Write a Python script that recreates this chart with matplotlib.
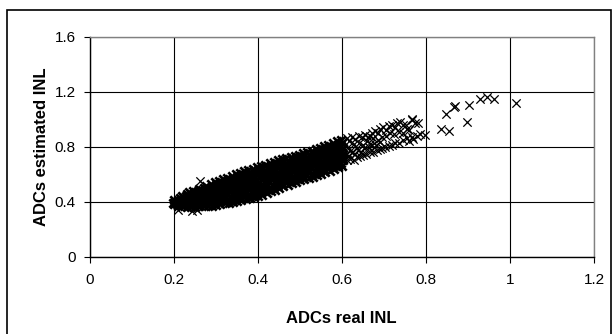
import matplotlib.pyplot as plt
from matplotlib.patches import Rectangle

plt.rcParams["font.family"] = ["Liberation Sans", "DejaVu Sans"]

# dense part of the cloud (read column by column, x = 0.20 .. 0.60)
dense_x = [
    0.201, 0.199, 0.203, 0.200,
    0.211, 0.208, 0.213, 0.210, 0.214,
    0.221, 0.218, 0.223, 0.220, 0.224, 0.219,
    0.231, 0.228, 0.233, 0.230, 0.234, 0.229, 0.232,
    0.241, 0.238, 0.243, 0.240, 0.244, 0.239, 0.242, 0.237,
    0.251, 0.248, 0.253, 0.250, 0.254, 0.249, 0.252, 0.247,
    0.261, 0.258, 0.263, 0.260, 0.264, 0.259, 0.262, 0.257, 0.261,
    0.271, 0.268, 0.273, 0.270, 0.274, 0.269, 0.272, 0.267, 0.271,
    0.281, 0.278, 0.283, 0.280, 0.284, 0.279, 0.282, 0.277, 0.281, 0.278,
    0.291, 0.288, 0.293, 0.290, 0.294, 0.289, 0.292, 0.287, 0.291, 0.288,
    0.301, 0.298, 0.303, 0.300, 0.304, 0.299, 0.302, 0.297, 0.301, 0.298,
    0.311, 0.308, 0.313, 0.310, 0.314, 0.309, 0.312, 0.307, 0.311, 0.308,
    0.321, 0.318, 0.323, 0.320, 0.324, 0.319, 0.322, 0.317, 0.321, 0.318,
    0.331, 0.328, 0.333, 0.330, 0.334, 0.329, 0.332, 0.327, 0.331, 0.328,
    0.341, 0.338, 0.343, 0.340, 0.344, 0.339, 0.342, 0.337, 0.341, 0.338,
    0.351, 0.348, 0.353, 0.350, 0.354, 0.349, 0.352, 0.347, 0.351, 0.348,
    0.361, 0.358, 0.363, 0.360, 0.364, 0.359, 0.362, 0.357, 0.361, 0.358,
    0.371, 0.368, 0.373, 0.370, 0.374, 0.369, 0.372, 0.367, 0.371, 0.368,
    0.381, 0.378, 0.383, 0.380, 0.384, 0.379, 0.382, 0.377, 0.381, 0.378,
    0.391, 0.388, 0.393, 0.390, 0.394, 0.389, 0.392, 0.387, 0.391, 0.388,
    0.401, 0.398, 0.403, 0.400, 0.404, 0.399, 0.402, 0.397, 0.401, 0.398,
    0.411, 0.408, 0.413, 0.410, 0.414, 0.409, 0.412, 0.407, 0.411, 0.408,
    0.421, 0.418, 0.423, 0.420, 0.424, 0.419, 0.422, 0.417, 0.421, 0.418,
    0.431, 0.428, 0.433, 0.430, 0.434, 0.429, 0.432, 0.427, 0.431, 0.428,
    0.441, 0.438, 0.443, 0.440, 0.444, 0.439, 0.442, 0.437, 0.441, 0.438,
    0.451, 0.448, 0.453, 0.450, 0.454, 0.449, 0.452, 0.447, 0.451, 0.448,
    0.461, 0.458, 0.463, 0.460, 0.464, 0.459, 0.462, 0.457, 0.461, 0.458,
    0.471, 0.468, 0.473, 0.470, 0.474, 0.469, 0.472, 0.467, 0.471, 0.468,
    0.481, 0.478, 0.483, 0.480, 0.484, 0.479, 0.482, 0.477, 0.481, 0.478,
    0.491, 0.488, 0.493, 0.490, 0.494, 0.489, 0.492, 0.487, 0.491, 0.488,
    0.501, 0.498, 0.503, 0.500, 0.504, 0.499, 0.502, 0.497, 0.501, 0.498,
    0.511, 0.508, 0.513, 0.510, 0.514, 0.509, 0.512, 0.507, 0.511, 0.508,
    0.521, 0.518, 0.523, 0.520, 0.524, 0.519, 0.522, 0.517, 0.521, 0.518,
    0.531, 0.528, 0.533, 0.530, 0.534, 0.529, 0.532, 0.527, 0.531, 0.528,
    0.541, 0.538, 0.543, 0.540, 0.544, 0.539, 0.542, 0.537, 0.541, 0.538,
    0.551, 0.548, 0.553, 0.550, 0.554, 0.549, 0.552, 0.547, 0.551, 0.548,
    0.561, 0.558, 0.563, 0.560, 0.564, 0.559, 0.562, 0.557, 0.561, 0.558,
    0.571, 0.568, 0.573, 0.570, 0.574, 0.569, 0.572, 0.567, 0.571, 0.568,
    0.581, 0.578, 0.583, 0.580, 0.584, 0.579, 0.582, 0.577, 0.581, 0.578,
    0.591, 0.588, 0.593, 0.590, 0.594, 0.589, 0.592, 0.587, 0.591, 0.588,
    0.601, 0.598, 0.603, 0.600, 0.604, 0.599, 0.602, 0.597, 0.601, 0.598,
]
dense_y = [
    0.382, 0.393, 0.401, 0.410,
    0.371, 0.385, 0.397, 0.414, 0.428,
    0.368, 0.384, 0.397, 0.413, 0.426, 0.442,
    0.362, 0.378, 0.392, 0.409, 0.423, 0.441, 0.455,
    0.363, 0.376, 0.393, 0.406, 0.423, 0.437, 0.454, 0.468,
    0.365, 0.380, 0.397, 0.411, 0.429, 0.444, 0.462, 0.478,
    0.366, 0.382, 0.396, 0.413, 0.427, 0.445, 0.458, 0.476, 0.490,
    0.368, 0.386, 0.401, 0.420, 0.435, 0.453, 0.468, 0.487, 0.503,
    0.370, 0.385, 0.403, 0.417, 0.435, 0.450, 0.468, 0.482, 0.500, 0.515,
    0.372, 0.390, 0.406, 0.425, 0.440, 0.460, 0.475, 0.494, 0.510, 0.528,
    0.376, 0.392, 0.413, 0.429, 0.449, 0.466, 0.486, 0.502, 0.523, 0.540,
    0.381, 0.398, 0.419, 0.436, 0.457, 0.475, 0.496, 0.513, 0.534, 0.552,
    0.388, 0.409, 0.426, 0.448, 0.465, 0.487, 0.504, 0.526, 0.543, 0.564,
    0.394, 0.413, 0.435, 0.454, 0.476, 0.494, 0.516, 0.535, 0.557, 0.576,
    0.401, 0.420, 0.443, 0.462, 0.485, 0.503, 0.526, 0.545, 0.568, 0.588,
    0.408, 0.430, 0.450, 0.473, 0.492, 0.516, 0.535, 0.558, 0.578, 0.600,
    0.414, 0.437, 0.457, 0.480, 0.500, 0.524, 0.544, 0.568, 0.587, 0.610,
    0.421, 0.441, 0.465, 0.486, 0.510, 0.530, 0.554, 0.575, 0.599, 0.620,
    0.428, 0.451, 0.472, 0.496, 0.517, 0.541, 0.562, 0.586, 0.607, 0.630,
    0.434, 0.458, 0.479, 0.504, 0.525, 0.549, 0.570, 0.595, 0.616, 0.640,
    0.441, 0.462, 0.488, 0.509, 0.534, 0.556, 0.581, 0.602, 0.628, 0.650,
    0.450, 0.474, 0.496, 0.521, 0.542, 0.568, 0.589, 0.614, 0.636, 0.660,
    0.464, 0.486, 0.511, 0.532, 0.557, 0.577, 0.602, 0.623, 0.648, 0.670,
    0.476, 0.500, 0.520, 0.545, 0.566, 0.590, 0.611, 0.636, 0.656, 0.680,
    0.488, 0.509, 0.534, 0.554, 0.579, 0.599, 0.624, 0.644, 0.669, 0.690,
    0.500, 0.523, 0.543, 0.568, 0.588, 0.612, 0.632, 0.657, 0.677, 0.700,
    0.511, 0.531, 0.555, 0.576, 0.600, 0.620, 0.644, 0.665, 0.689, 0.710,
    0.522, 0.545, 0.565, 0.589, 0.609, 0.633, 0.653, 0.677, 0.697, 0.720,
    0.535, 0.555, 0.578, 0.598, 0.621, 0.641, 0.664, 0.684, 0.707, 0.728,
    0.545, 0.567, 0.586, 0.609, 0.628, 0.652, 0.671, 0.694, 0.713, 0.735,
    0.556, 0.575, 0.598, 0.616, 0.639, 0.658, 0.681, 0.699, 0.722, 0.742,
    0.565, 0.587, 0.606, 0.628, 0.647, 0.670, 0.689, 0.711, 0.730, 0.752,
    0.575, 0.594, 0.617, 0.636, 0.659, 0.677, 0.700, 0.719, 0.742, 0.762,
    0.582, 0.604, 0.623, 0.646, 0.665, 0.689, 0.708, 0.731, 0.750, 0.772,
    0.591, 0.610, 0.634, 0.653, 0.676, 0.696, 0.719, 0.738, 0.762, 0.782,
    0.600, 0.622, 0.642, 0.665, 0.684, 0.708, 0.727, 0.750, 0.770, 0.792,
    0.615, 0.634, 0.657, 0.676, 0.699, 0.717, 0.740, 0.759, 0.782, 0.802,
    0.626, 0.648, 0.667, 0.690, 0.709, 0.731, 0.750, 0.773, 0.792, 0.814,
    0.639, 0.658, 0.681, 0.699, 0.722, 0.742, 0.765, 0.783, 0.806, 0.826,
    0.650, 0.671, 0.690, 0.713, 0.732, 0.756, 0.775, 0.798, 0.816, 0.838,
    0.661, 0.680, 0.703, 0.722, 0.745, 0.765, 0.788, 0.807, 0.830, 0.850,
]

# upper branch past x = 0.6
upper_x = [0.612, 0.618, 0.625, 0.632, 0.640, 0.647, 0.655, 0.662, 0.667, 0.672, 0.680, 0.686,
           0.692, 0.698, 0.704, 0.712, 0.720, 0.726, 0.732, 0.738, 0.745, 0.752, 0.766, 0.774]
upper_y = [0.862, 0.845, 0.870, 0.855, 0.880, 0.868, 0.885, 0.872, 0.880, 0.900, 0.912, 0.898,
           0.930, 0.942, 0.925, 0.950, 0.960, 0.945, 0.975, 0.980, 0.960, 0.955, 0.994, 0.970]
# scattered points between the two branches
mid_x = [0.615, 0.620, 0.628, 0.635, 0.642, 0.650, 0.660, 0.668, 0.675, 0.685, 0.695, 0.705,
         0.715, 0.725, 0.735, 0.745, 0.755, 0.760, 0.778, 0.786,
         0.610, 0.617, 0.624, 0.631, 0.638, 0.645, 0.653, 0.664, 0.672, 0.681, 0.690]
mid_y = [0.800, 0.770, 0.820, 0.790, 0.830, 0.810, 0.840, 0.820, 0.860, 0.850, 0.870, 0.880,
         0.900, 0.890, 0.910, 0.900, 0.930, 0.920, 0.880, 0.890,
         0.745, 0.735, 0.760, 0.750, 0.775, 0.765, 0.790, 0.795, 0.810, 0.815, 0.835]
# lower branch past x = 0.6
lower_x = [0.612, 0.620, 0.628, 0.636, 0.644, 0.651, 0.658, 0.667, 0.675, 0.683, 0.690, 0.695,
           0.703, 0.712, 0.719, 0.727, 0.735, 0.746, 0.754, 0.760, 0.766, 0.770]
lower_y = [0.700, 0.712, 0.705, 0.722, 0.730, 0.740, 0.745, 0.764, 0.765, 0.778, 0.785, 0.790,
           0.800, 0.808, 0.810, 0.825, 0.830, 0.850, 0.860, 0.845, 0.870, 0.855]
# isolated points
outlier_x = [0.210, 0.243, 0.256, 0.263, 0.768, 0.781, 0.799, 0.836, 0.849, 0.855, 0.866,
             0.869, 0.899, 0.902, 0.929, 0.946, 0.963, 1.014]
outlier_y = [0.340, 0.335, 0.338, 0.553, 1.000, 0.975, 0.887, 0.926, 1.040, 0.912, 1.086,
             1.096, 0.982, 1.100, 1.144, 1.164, 1.144, 1.120]

x_ticks = [0, 0.2, 0.4, 0.6, 0.8, 1, 1.2]
y_ticks = [0, 0.4, 0.8, 1.2, 1.6]

fig = plt.figure(figsize=(6.16, 3.34), dpi=100)
W, H = 616, 334
ax = fig.add_axes([89.6 / W, 1 - 256.7 / H, (594 - 89.6) / W, (256.7 - 36.7) / H])

# outer chart border
fig.patches.append(Rectangle((7 / W, -0.1), (611 - 7) / W, (H - 10) / H + 0.1,
                             transform=fig.transFigure, fill=False, ec="black", lw=1.2))

# the crowded band is drawn with heavier strokes so it reads as solid
ax.scatter(dense_x, dense_y, marker="x", s=36, c="black", linewidths=1.9, zorder=3)
sparse_x = upper_x + mid_x + lower_x + outlier_x
sparse_y = upper_y + mid_y + lower_y + outlier_y
ax.scatter(sparse_x, sparse_y, marker="x", s=36, c="black", linewidths=0.9, zorder=3)

ax.set_xlim(0, 1.2)
ax.set_ylim(0, 1.6)
ax.set_xticks(x_ticks)
ax.set_xticklabels(["0", "0.2", "0.4", "0.6", "0.8", "1", "1.2"])
ax.set_yticks(y_ticks)
ax.set_yticklabels(["0", "0.4", "0.8", "1.2", "1.6"])
ax.grid(True, color="black", lw=0.8)
ax.set_axisbelow(True)

for s in ["left", "bottom"]:
    ax.spines[s].set_color("black")
    ax.spines[s].set_linewidth(1.0)
for s in ["top", "right"]:
    ax.spines[s].set_color("#808080")
    ax.spines[s].set_linewidth(1.0)

ax.tick_params(axis="x", direction="out", length=4, width=0.8, labelsize=11, pad=8)
ax.tick_params(axis="y", direction="out", length=4, width=0.8, labelsize=11, pad=6)

ax.set_xlabel("ADCs real INL", fontsize=12, fontweight="bold", va="center")
ax.xaxis.set_label_coords(0.5, (334 - 319 - 77.3) / 220)
ax.set_ylabel("ADCs estimated INL", fontsize=12, fontweight="bold", va="center")
ax.yaxis.set_label_coords((41 - 89.6) / 504.4, 0.5)

fig.savefig("out.png", dpi=100)
